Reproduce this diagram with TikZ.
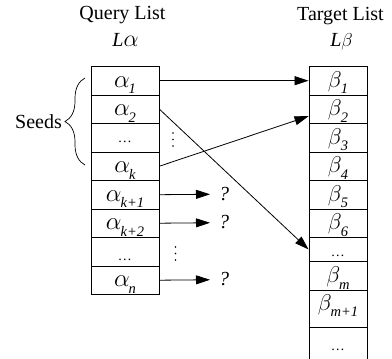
\documentclass[tikz,border=0pt]{standalone}
\usepackage{fontspec}
\setmainfont{Liberation Serif}
\usetikzlibrary{arrows.meta,decorations.pathreplacing,calc}
\newcommand{\gs}[3][1.2]{\scalebox{#1}{#2}\kern-1pt\raisebox{-6.5pt}{\fontsize{14.5}{14.5}\selectfont #3}}
\newcommand{\eli}{{\fontsize{14}{14}\selectfont …}}
\begin{document}
\begin{tikzpicture}[x=1pt,y=-1pt,
  txt/.style={inner sep=0pt, font=\fontsize{20}{24}\selectfont},
  lcell/.style={draw, line width=0.9pt, inner sep=0pt, minimum width=68pt, anchor=north, font=\fontsize{20}{24}\selectfont\itshape},
  rcell/.style={draw, line width=0.9pt, inner sep=0pt, minimum width=58pt, anchor=north, font=\fontsize{20}{24}\selectfont\itshape},
  arr/.style={line width=0.8pt, -{Triangle[length=14pt,width=9pt]}},
  vdot/.style={fill, inner sep=0pt, minimum size=1.8pt, circle}]
\useasboundingbox (0,0) rectangle (392,359);

% titles
\node[txt, anchor=base] (qt) at (122.5,19.5) {Query List};
\node[txt, anchor=base, font=\fontsize{20}{24}\selectfont\itshape] (la) at (125.5,46.7) {L\scalebox{1.15}{$\alpha$}};
\node[txt, anchor=base] (tt) at (340.5,20) {Target List};
\node[txt, anchor=base, font=\fontsize{20}{24}\selectfont\itshape] (lb) at (341.5,46.7) {L\scalebox{0.9}{$\beta$}};

% query list
\node[lcell, text height=21pt, text depth=7.5pt] (a1) at (125,66) {\gs{$\alpha$}{1}};
\node[lcell, text height=21pt, text depth=7.5pt] (a2) at (125,94.5) {\gs{$\alpha$}{2}};
\node[lcell, text height=19pt, text depth=9.5pt] (a3) at (125,123) {\eli};
\node[lcell, text height=21pt, text depth=7.5pt] (ak) at (125,151.5) {\gs{$\alpha$}{k}};
\node[lcell, text height=21pt, text depth=7.5pt] (ak1) at (125,180) {\gs{$\alpha$}{k+1}};
\node[lcell, text height=21pt, text depth=7.5pt] (ak2) at (125,208.5) {\gs{$\alpha$}{k+2}};
\node[lcell, text height=23pt, text depth=5.5pt] (a7) at (125,237) {\eli};
\node[lcell, text height=21pt, text depth=7.5pt] (an) at (125,265.5) {\gs{$\alpha$}{n}};

% target list
\node[rcell, text height=21pt, text depth=7.5pt] (b1) at (338,66) {\gs[1.1]{$\beta$}{1}};
\node[rcell, text height=21pt, text depth=7.5pt] (b2) at (338,94.5) {\gs[1.1]{$\beta$}{2}};
\node[rcell, text height=21pt, text depth=7.5pt] (b3) at (338,123) {\gs[1.1]{$\beta$}{3}};
\node[rcell, text height=21pt, text depth=7.5pt] (b4) at (338,151.5) {\gs[1.1]{$\beta$}{4}};
\node[rcell, text height=21pt, text depth=7.5pt] (b5) at (338,180) {\gs[1.1]{$\beta$}{5}};
\node[rcell, text height=21pt, text depth=7.5pt] (b6) at (338,208.5) {\gs[1.1]{$\beta$}{6}};
\node[rcell, text height=19pt, text depth=5pt] (b7) at (338,237) {\eli};
\node[rcell, text height=21.5pt, text depth=7.5pt] (bm) at (338,261) {\gs[1.1]{$\beta$}{m}};
\node[rcell, text height=20pt, text depth=17pt] (bm1) at (338,290) {\gs[1.1]{$\beta$}{m+1}};
\node[rcell, text height=23pt, text depth=17pt] (b10) at (338,327) {\eli};

% brace and seeds
\draw[line width=0.7pt, decorate, decoration={brace, amplitude=20pt}] (85,165) -- (85,78);
\node[txt, anchor=base east] (seeds) at (62,128.5) {Seeds};

% vertical dots
\node[vdot] (d1) at (173,133) {};
\node[vdot] (d2) at (173,139.5) {};
\node[vdot] (d3) at (173,146) {};
\node[vdot] (e1) at (175.5,247) {};
\node[vdot] (e2) at (175.5,253.5) {};
\node[vdot] (e3) at (175.5,260) {};

% mapping arrows
\draw[arr] (a1.east) -- (b1.west);
\draw[arr] (a2.east) -- (b7.west);
\draw[arr] (ak.east) -- ($(b2.west)+(0,7)$);

% unknown arrows
\coordinate (q1) at (210,194.25);
\coordinate (q2) at (210,222.75);
\coordinate (q3) at (210,279.75);
\draw[arr] (ak1.east) -- (q1);
\draw[arr] (ak2.east) -- (q2);
\draw[arr] (an.east) -- (q3);
\node[txt, anchor=base west, font=\fontsize{20}{24}\selectfont\itshape] (u1) at (219,200.25) {?};
\node[txt, anchor=base west, font=\fontsize{20}{24}\selectfont\itshape] (u2) at (219,228.75) {?};
\node[txt, anchor=base west, font=\fontsize{20}{24}\selectfont\itshape] (u3) at (219,285.75) {?};
\end{tikzpicture}
\end{document}
